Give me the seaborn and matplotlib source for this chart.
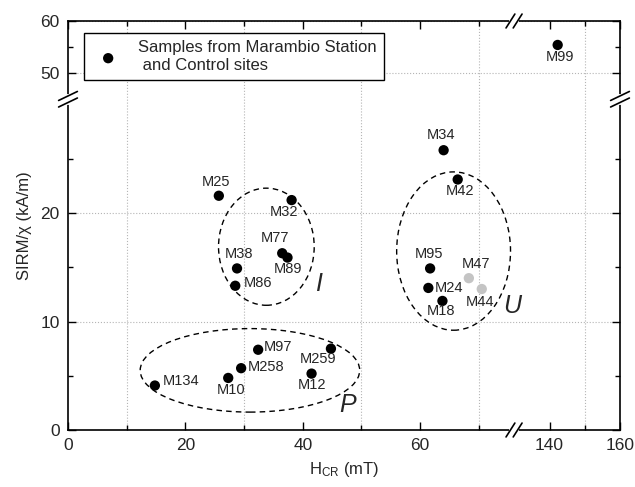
import numpy as np
import pandas as pd
import seaborn as sns
import matplotlib.pyplot as plt
from matplotlib.patches import Ellipse

# Sample values
names = ['M25', 'M32', 'M77', 'M89', 'M38', 'M86', 'M134', 'M10', 'M258', 'M97',
         'M12', 'M259', 'M95', 'M24', 'M18', 'M34', 'M42', 'M99', 'M47', 'M44']
hcr = [25.7, 38.1, 36.5, 37.4, 28.8, 28.5, 14.8, 27.3, 29.5, 32.4,
       41.5, 44.8, 61.7, 61.4, 63.8, 64.0, 66.4, 142.3, 68.3, 70.5]
sirm = [21.6, 21.2, 16.3, 15.9, 14.9, 13.3, 4.1, 4.8, 5.7, 7.4,
        5.2, 7.5, 14.9, 13.1, 11.9, 25.8, 23.1, 55.4, 14.0, 13.0]
group = ['main'] * 18 + ['grey'] * 2

# label offsets (pixels, text centre relative to point)
label_dx = [-3, -8, -7, 1, 2, 23, 26, 3, 25, 20, 0, -13, -1, 21, -1, -3, 2, 2, 7, -2]
label_dy = [14, -12, 15, -11, 14, 3, 5, -12, 1, 3, -11, -10, 14, 0, -10, 15, -12, -12, 14, -13]

# dashed cluster ellipses
cluster_names = ['I', 'U', 'P']
cluster_cx = [33.8, 65.7, 31.0]
cluster_cy = [16.9, 16.5, 5.5]
cluster_w = [16.3, 19.4, 37.4]
cluster_h = [10.8, 14.6, 7.7]
cluster_lx = [42.7, 75.6, 47.7]
cluster_ly = [13.5, 11.4, 2.3]

df = pd.DataFrame({'name': names, 'hcr': hcr, 'sirm': sirm, 'group': group})

# broken axes via piecewise-linear function scales
XB0, XB1, XR = 76.0, 130.0, 0.6
YB0, YB1, YR = 30.5, 45.0, 0.48
K = 0.001


def make_scale(b0, b1, r):
    g1 = b0 + (b1 - b0) * K

    def fwd(v):
        v = np.asarray(v, float)
        return np.where(v <= b0, v, np.where(v >= b1, g1 + (v - b1) * r, b0 + (v - b0) * K))

    def inv(v):
        v = np.asarray(v, float)
        return np.where(v <= b0, v, np.where(v >= g1, b1 + (v - g1) / r, b0 + (v - b0) / K))
    return fwd, inv


fx, ix = make_scale(XB0, XB1, XR)
fy, iy = make_scale(YB0, YB1, YR)

sns.set_style('ticks')
plt.rcParams['font.family'] = ['Liberation Sans', 'DejaVu Sans']
plt.rcParams['mathtext.default'] = 'regular'

fig, ax = plt.subplots(figsize=(6.35, 4.87), dpi=100)
fig.subplots_adjust(left=68 / 635, right=620 / 635, top=1 - 21 / 487, bottom=1 - 430 / 487)

ax.set_xscale('function', functions=(fx, ix))
ax.set_yscale('function', functions=(fy, iy))

main = df[df['group'] == 'main']
grey = df[df['group'] == 'grey']
sns.scatterplot(data=main, x='hcr', y='sirm', color='black', s=55, edgecolor='none',
                ax=ax, zorder=4, label='Samples from Marambio Station\n and Control sites')
sns.scatterplot(data=grey, x='hcr', y='sirm', color='#c4c4c4', s=55, edgecolor='none',
                ax=ax, zorder=4, legend=False)

for n, x, y, dx, dy in zip(names, hcr, sirm, label_dx, label_dy):
    ax.annotate(n, (x, y), xytext=(dx * 0.72, dy * 0.72), textcoords='offset points',
                ha='center', va='center', fontsize=10.5, zorder=5)

for cname, cx, cy, w, h, lx, ly in zip(cluster_names, cluster_cx, cluster_cy,
                                       cluster_w, cluster_h, cluster_lx, cluster_ly):
    ax.add_patch(Ellipse((cx, cy), w, h, fill=False, ls=(0, (4, 3)), lw=1.0,
                         ec='black', zorder=3))
    ax.text(lx, ly, cname, fontsize=18, style='italic', ha='center', va='center')

ax.set_xlim(0, 160)
ax.set_ylim(0, 60)
ax.set_xticks([0, 20, 40, 60, 140, 160])
ax.set_xticks([10, 30, 50, 70, 150], minor=True)
ax.set_yticks([0, 10, 20, 50, 60])
ax.set_yticks([5, 15, 25, 55], minor=True)
ax.tick_params(which='both', direction='in', top=True, right=True, labelsize=12.5,
               color='black', width=1.0)
ax.tick_params(which='major', length=6, pad=6)
ax.tick_params(which='minor', length=3.5)

ax.xaxis.grid(False, which='major')
ax.xaxis.grid(True, which='minor', ls=':', color='#b5b5b5', lw=0.8)
ax.yaxis.grid(True, which='major', ls=':', color='#b5b5b5', lw=0.8)
ax.set_axisbelow(True)

for sp in ax.spines.values():
    sp.set_color('black')
    sp.set_linewidth(1.2)

ax.set_xlabel('H$_{CR}$ (mT)', fontsize=12, labelpad=5)
ax.set_ylabel('SIRM/χ (kA/m)', fontsize=12, labelpad=6)

# break marks
xf = float(fx(XB0) / fx(160))
yf = float(fy(YB0) / fy(60))
kw = dict(transform=ax.transAxes, clip_on=False, color='black', lw=1.2, zorder=6)
for yy in (0, 1):
    ax.plot([xf - 0.006, xf + 0.006], [yy, yy], transform=ax.transAxes, clip_on=False,
            color='white', lw=3, zorder=5)
    for d in (-0.0065, 0.0065):
        ax.plot([xf + d - 0.008, xf + d + 0.008], [yy - 0.017, yy + 0.017], **kw)
for xx in (0, 1):
    ax.plot([xx, xx], [yf - 0.008, yf + 0.008], transform=ax.transAxes, clip_on=False,
            color='white', lw=3, zorder=5)
    for d in (-0.008, 0.008):
        ax.plot([xx - 0.017, xx + 0.017], [yf + d - 0.011, yf + d + 0.011], **kw)

leg = ax.legend(loc='upper left', bbox_to_anchor=(0.029, 0.971), borderaxespad=0,
                frameon=True, fancybox=False, edgecolor='black', framealpha=1,
                fontsize=12, handletextpad=0.8, borderpad=0.45)
leg.get_frame().set_linewidth(1.0)

plt.savefig('out.png', dpi=100)
plt.close()
